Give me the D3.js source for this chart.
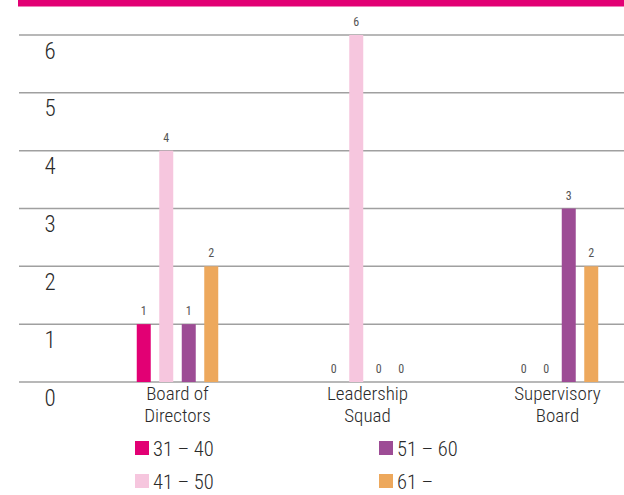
<!DOCTYPE html>
<html>
<head>
<meta charset="utf-8">
<script src="https://cdn.jsdelivr.net/npm/d3@7"></script>
<style>
  html, body { margin: 0; padding: 0; background: #fff; }
  svg { display: block; font-family: "Liberation Sans Narrow", "Roboto Condensed", Roboto, sans-serif; font-stretch: condensed; font-weight: 300; }
</style>
</head>
<body>
<svg id="chart" width="624" height="495"></svg>
<script>
const categories = [["Board of", "Directors"], ["Leadership", "Squad"], ["Supervisory", "Board"]];
const categoryKeys = ["Board of Directors", "Leadership Squad", "Supervisory Board"];
const seriesNames = ["31 – 40", "41 – 50", "51 – 60", "61 –"];
const seriesColors = ["#e20074", "#f6c6de", "#9d4c95", "#eda85c"];
const s31_40 = [1, 0, 0];
const s41_50 = [4, 6, 0];
const s51_60 = [1, 0, 3];
const s61 = [2, 0, 2];
const yTicks = [0, 1, 2, 3, 4, 5, 6];

const seriesValues = [s31_40, s41_50, s51_60, s61];
const svg = d3.select("#chart");

svg.append("rect").attr("x", 18).attr("y", 0).attr("width", 606).attr("height", 6.5).attr("fill", "#e20074");

const y = d3.scaleLinear().domain([0, 6]).range([382, 35]);
const x0 = d3.scaleBand().domain(categoryKeys).range([82.5, 652.5]);
const x1 = d3.scaleBand().domain(seriesNames).range([-45, 45]).paddingInner(0.378).paddingOuter(0.189);

const grid = svg.append("g");
grid.selectAll("line").data(yTicks).join("line")
  .attr("x1", 19).attr("x2", 624)
  .attr("y1", d => y(d)).attr("y2", d => y(d))
  .attr("stroke", "#a0a0a0").attr("stroke-width", 1.5);
grid.selectAll("text").data(yTicks).join("text")
  .attr("x", 50).attr("y", d => y(d) + 16)
  .attr("text-anchor", "middle").attr("dominant-baseline", "central")
  .attr("font-size", 23).attr("fill", "#2a2a2a")
  .text(d => d);

const data = [];
categoryKeys.forEach((c, ci) => {
  seriesNames.forEach((s, si) => {
    data.push({ cat: c, ser: s, si: si, v: seriesValues[si][ci] });
  });
});
const bars = svg.append("g");
bars.selectAll("rect").data(data.filter(d => d.v > 0)).join("rect")
  .attr("x", d => x0(d.cat) + x0.bandwidth() / 2 + x1(d.ser))
  .attr("width", x1.bandwidth())
  .attr("y", d => y(d.v))
  .attr("height", d => y(0) - y(d.v))
  .attr("fill", d => seriesColors[d.si]);
bars.selectAll("text").data(data).join("text")
  .attr("x", d => x0(d.cat) + x0.bandwidth() / 2 + x1(d.ser) + x1.bandwidth() / 2)
  .attr("y", d => y(d.v) - 13)
  .attr("text-anchor", "middle").attr("dominant-baseline", "central")
  .attr("font-size", 12).attr("font-weight", 400).attr("fill", "#555")
  .text(d => d.v);

const cl = svg.append("g");
categoryKeys.forEach((c, ci) => {
  categories[ci].forEach((line, li) => {
    cl.append("text")
      .attr("x", x0(c) + x0.bandwidth() / 2).attr("y", 393 + li * 22)
      .attr("text-anchor", "middle").attr("dominant-baseline", "central")
      .attr("font-size", 19).attr("fill", "#2a2a2a").text(line);
  });
});

const legendPos = [[135, 448], [135, 481], [379, 448], [379, 481]];
const lg = svg.append("g");
seriesNames.forEach((s, i) => {
  const [lx, ly] = legendPos[i];
  lg.append("rect").attr("x", lx).attr("y", ly - 7).attr("width", 14).attr("height", 14).attr("fill", seriesColors[i]);
  lg.append("text").attr("x", lx + 18).attr("y", ly + 1).attr("dominant-baseline", "central")
    .attr("font-size", 20.5).attr("fill", "#2a2a2a").text(s);
});
</script>
</body>
</html>
